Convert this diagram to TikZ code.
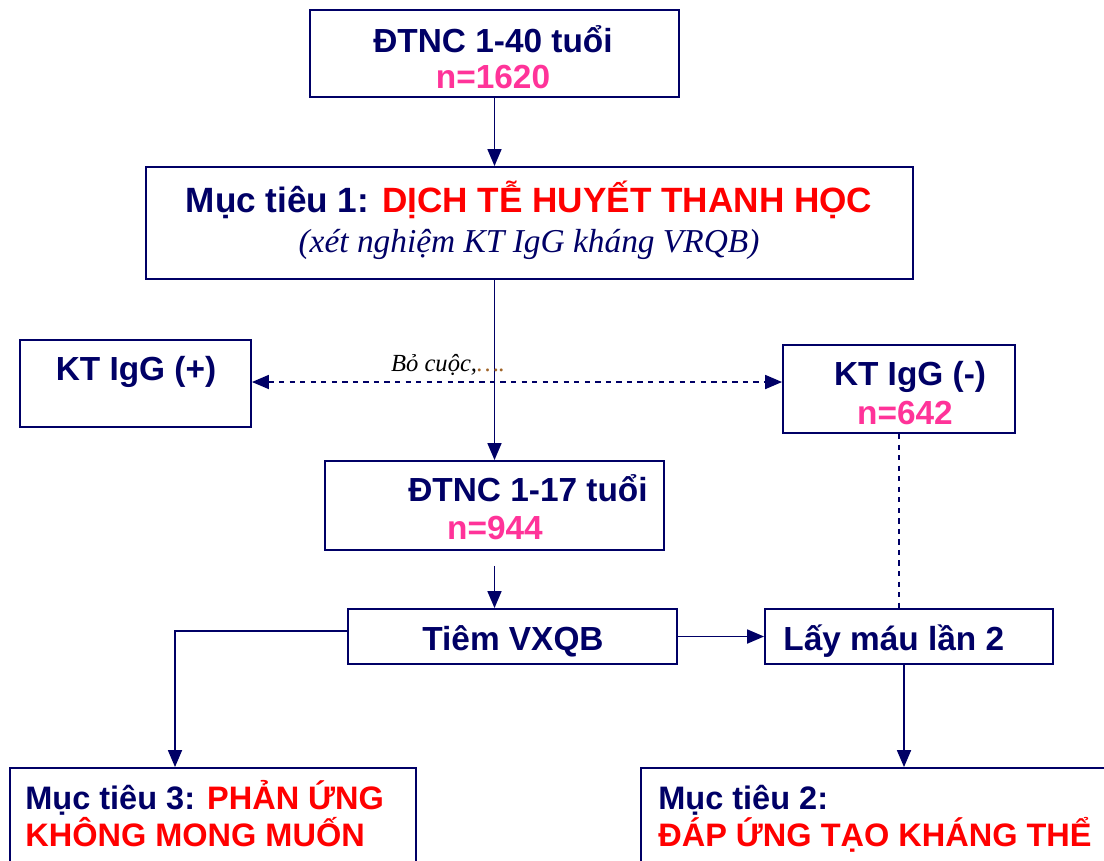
\documentclass[tikz,border=0pt]{standalone}
\usepackage{fontspec}
\setmainfont{Liberation Sans}
\newfontfamily\serifit{Liberation Serif}
\usetikzlibrary{arrows.meta}
\definecolor{figN}{RGB}{0,0,102}
\definecolor{figP}{RGB}{255,51,153}
\definecolor{figR}{RGB}{255,0,0}
\definecolor{figO}{RGB}{160,100,40}

\begin{document}
\begin{tikzpicture}[x=0.02cm,y=-0.02cm,>={Triangle[length=3.4mm,width=2.8mm]},
  box/.style={draw=figN,line width=1.1pt,inner sep=0pt},
  lbl/.style={anchor=base,inner sep=0pt,text=figN,font=\bfseries\fontsize{19}{22}\selectfont},
  goallbl/.style={lbl,anchor=base west,font=\bfseries\fontsize{18.5}{22}\selectfont},
  link/.style={draw=figN,line width=1pt}]
\clip (0,0) rectangle (1104,860);
\fill[white] (0,0) rectangle (1104,860);
% boxes
\node[box,minimum width=7.38cm,minimum height=1.74cm] (top) at (494.5,53.5) {};
\node[box,minimum width=15.34cm,minimum height=2.24cm] (goal1) at (529.5,223) {};
\node[box,minimum width=4.62cm,minimum height=1.74cm] (pos) at (135.5,383.5) {};
\node[box,minimum width=4.64cm,minimum height=1.76cm] (neg) at (899,389) {};
\node[box,minimum width=6.78cm,minimum height=1.78cm] (kid) at (494.5,505.5) {};
\node[box,minimum width=6.58cm,minimum height=1.1cm] (vax) at (512.5,636.5) {};
\node[box,minimum width=5.76cm,minimum height=1.1cm] (blood) at (909,636.5) {};
\node[box,minimum width=8.12cm,minimum height=2.24cm] (goal3) at (213,824) {};
\node[box,minimum width=9.58cm,minimum height=2.24cm] (goal2) at (880.5,824) {};
% texts
\node[lbl] (topA) at (493,52) {ĐTNC 1-40 tuổi};
\node[lbl,text=figP] (topB) at (493,88) {n=1620};
\node[lbl,font=\bfseries\fontsize{20}{24}\selectfont] (g1A) at (529,212) {Mục tiêu 1: \textcolor{figR}{DỊCH TỄ HUYẾT THANH HỌC}};
\node[lbl,font=\serifit\itshape\fontsize{19}{22}\selectfont] (g1B) at (529,252) {(xét nghiệm KT IgG kháng VRQB)};
\node[lbl] (posA) at (136,380) {KT IgG (+)};
\node[lbl] (negA) at (910,385) {KT IgG (-)};
\node[lbl,text=figP] (negB) at (905,424) {n=642};
\node[lbl] (kidA) at (528,501) {ĐTNC 1-17 tuổi};
\node[lbl,text=figP] (kidB) at (495,539) {n=944};
\node[lbl] (vaxA) at (513,650) {Tiêm VXQB};
\node[lbl,anchor=base west] (bloodA) at (783,650) {Lấy máu lần 2};
\node[goallbl] (g3A) at (25,809) {Mục tiêu 3: \textcolor{figR}{PHẢN ỨNG}};
\node[goallbl,text=figR] (g3B) at (25,846) {KHÔNG MONG MUỐN};
\node[goallbl] (g2A) at (658,809) {Mục tiêu 2:};
\node[goallbl,text=figR] (g2B) at (658,846) {ĐÁP ỨNG TẠO KHÁNG THỂ};
% connectors
\draw[link,->] (top.south) -- (top.south |- goal1.north);
\draw[link,->] (top.south |- goal1.south) -- (kid.north);
\draw[link,dashed,<->] ([yshift=0.03cm]pos.east) -- ([yshift=0.03cm]pos.east -| neg.west)
  node[pos=0.37,above=6pt,anchor=base,inner sep=0pt,font=\serifit\itshape\fontsize{14}{16}\selectfont,text=black] (drop) {Bỏ cuộc,\textcolor{figO}{….}};
\draw[link,->] ([yshift=-0.3cm]kid.south) -- (kid.south |- vax.north);
\draw[link,->] ([yshift=0.11cm]vax.west) -| ([xshift=-0.76cm]goal3.north);
\draw[link,->] (vax.east) -- (vax.east -| blood.west);
\draw[link,->] ([xshift=-0.1cm]blood.south) -- ([xshift=-0.1cm]blood.south |- goal2.north);
\draw[link,dashed] (neg.south) -- (neg.south |- blood.north);
\end{tikzpicture}
\end{document}
